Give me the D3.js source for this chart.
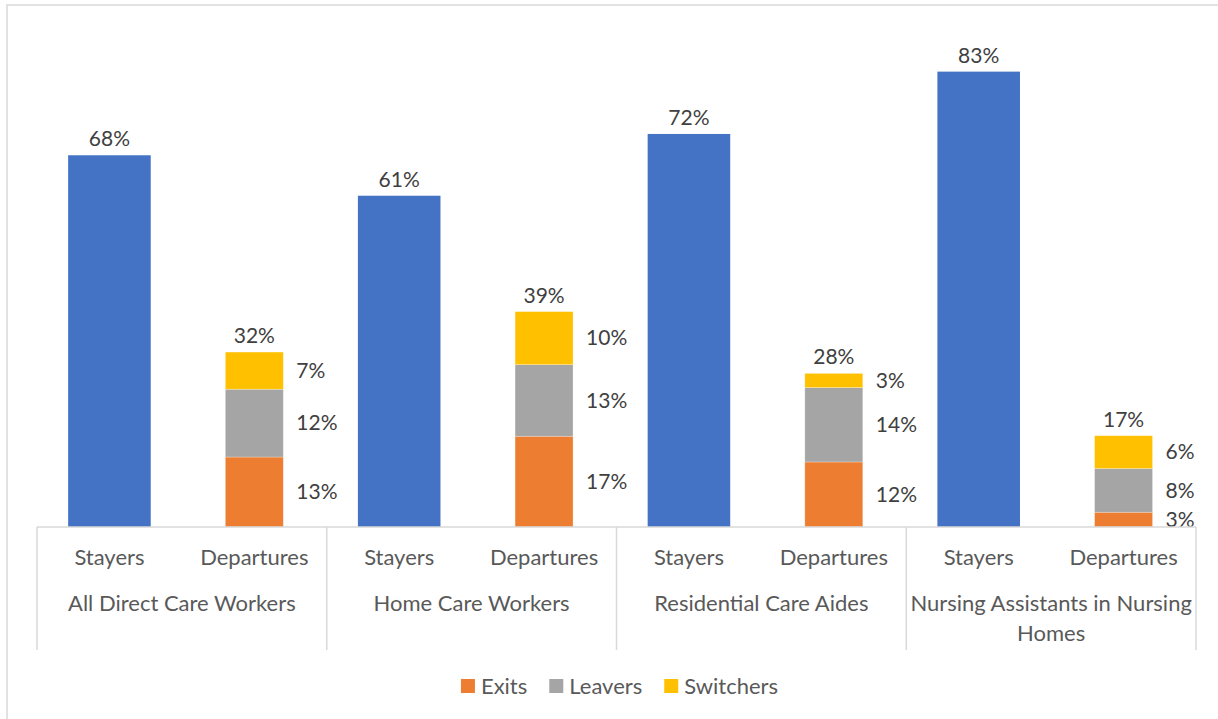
<!DOCTYPE html>
<html>
<head>
<meta charset="utf-8">
<script src="https://cdn.jsdelivr.net/npm/d3@7"></script>
<style>
  html, body { margin: 0; padding: 0; background: #fff; }
  svg { display: block; font-family: Lato, "Open Sans", sans-serif; }
</style>
</head>
<body>
<svg id="chart" width="1218" height="719"></svg>
<script>
// Worker groups along the axis
const groups = ["All Direct Care Workers", "Home Care Workers", "Residential Care Aides", "Nursing Assistants in Nursing Homes"];
const categories = ["Stayers", "Departures"];

// Share of workers who stayed in their job
const stayers = [0.68, 0.606, 0.719, 0.833];

// Departures broken down by type
const exits     = [0.128, 0.166, 0.119, 0.027];
const leavers   = [0.124, 0.131, 0.136, 0.080];
const switchers = [0.068, 0.097, 0.026, 0.060];

const seriesNames = ["Exits", "Leavers", "Switchers"];
const seriesValues = [exits, leavers, switchers];
const seriesColors = ["#ED7D31", "#A5A5A5", "#FFC000"];
const stayerColor = "#4472C4";

const W = 1218, H = 719;
const plot = { left: 37, right: 1196, top: 35, bottom: 527 };

const svg = d3.select("#chart");
const pct = d3.format(".0%");

// Chart area frame (left and top edges)
svg.append("path")
  .attr("d", `M7,${H} L7,5 L${W},5`)
  .attr("fill", "none")
  .attr("stroke", "#D9D9D9")
  .attr("stroke-width", 1.5);

const y = d3.scaleLinear().domain([0, 0.9]).range([plot.bottom, plot.top]);
const xGroup = d3.scaleBand().domain(groups).range([plot.left, plot.right]).padding(0);
const xCat = d3.scaleBand().domain(categories).range([0, xGroup.bandwidth()]).padding(0);

const stayerWidth = xCat.bandwidth() * 0.57;
const departWidth = xCat.bandwidth() * 0.40;

// Stacked departures table
const table = groups.map((g, i) => ({ group: g, Exits: exits[i], Leavers: leavers[i], Switchers: switchers[i] }));
const stack = d3.stack().keys(seriesNames)(table);

const gBars = svg.append("g");

// Stayers bars
groups.forEach((g, i) => {
  const cx = xGroup(g) + xCat("Stayers") + xCat.bandwidth() / 2;
  gBars.append("rect")
    .attr("x", cx - stayerWidth / 2)
    .attr("y", y(stayers[i]))
    .attr("width", stayerWidth)
    .attr("height", y(0) - y(stayers[i]))
    .attr("fill", stayerColor);
  gBars.append("text")
    .attr("x", cx)
    .attr("y", y(stayers[i]) - 9)
    .attr("text-anchor", "middle")
    .attr("font-size", 21)
    .attr("fill", "#404040")
    .text(pct(stayers[i]));
});

// Departures stacked bars with segment labels
stack.forEach((layer, k) => {
  layer.forEach((d, i) => {
    const g = groups[i];
    const cx = xGroup(g) + xCat("Departures") + xCat.bandwidth() / 2;
    gBars.append("rect")
      .attr("x", cx - departWidth / 2)
      .attr("y", y(d[1]))
      .attr("width", departWidth)
      .attr("height", y(d[0]) - y(d[1]))
      .attr("fill", seriesColors[k])
      .attr("stroke", "#fff")
      .attr("stroke-opacity", 0.35)
      .attr("stroke-width", 0.75);
    gBars.append("text")
      .attr("x", cx + departWidth / 2 + 13)
      .attr("y", (y(d[0]) + y(d[1])) / 2)
      .attr("dy", "0.35em")
      .attr("font-size", 21)
      .attr("fill", "#404040")
      .text(pct(seriesValues[k][i]));
  });
});

// Departure totals above each stack
groups.forEach((g, i) => {
  const total = exits[i] + leavers[i] + switchers[i];
  const cx = xGroup(g) + xCat("Departures") + xCat.bandwidth() / 2;
  gBars.append("text")
    .attr("x", cx)
    .attr("y", y(total) - 9)
    .attr("text-anchor", "middle")
    .attr("font-size", 21)
    .attr("fill", "#404040")
    .text(pct(total));
});

// Category axis: baseline and group dividers
const axis = svg.append("g").attr("stroke", "#D9D9D9").attr("stroke-width", 1.5);
axis.append("line")
  .attr("x1", plot.left).attr("x2", plot.right)
  .attr("y1", plot.bottom).attr("y2", plot.bottom);
const bounds = groups.map(g => xGroup(g)).concat([plot.right]);
axis.selectAll("line.div").data(bounds).join("line")
  .attr("class", "div")
  .attr("x1", d => d).attr("x2", d => d)
  .attr("y1", plot.bottom).attr("y2", 650);

const labels = svg.append("g").attr("fill", "#595959").attr("font-size", 22).attr("text-anchor", "middle");
groups.forEach(g => {
  categories.forEach(c => {
    labels.append("text")
      .attr("x", xGroup(g) + xCat(c) + xCat.bandwidth() / 2)
      .attr("y", 557)
      .attr("dy", "0.35em")
      .text(c);
  });
});

// Group names, wrapped to fit each band
groups.forEach(g => {
  const cx = xGroup(g) + xGroup.bandwidth() / 2;
  const t = labels.append("text")
    .attr("x", cx)
    .attr("y", 603)
    .attr("dy", "0.35em");
  const words = g.split(" ");
  let line = [], tspan = t.append("tspan").attr("x", cx);
  words.forEach(w => {
    line.push(w);
    tspan.text(line.join(" "));
    if (tspan.node().getComputedTextLength() > xGroup.bandwidth() - 6 && line.length > 1) {
      line.pop();
      tspan.text(line.join(" "));
      line = [w];
      tspan = t.append("tspan")
        .attr("x", cx)
        .attr("dy", "30px")
        .text(w);
    }
  });
});

// Legend
const legendItems = seriesNames.map((n, i) => ({ name: n, color: seriesColors[i] }));
const legend = svg.append("g").attr("font-size", 22).attr("fill", "#595959");
let lx = 0;
const items = legend.selectAll("g").data(legendItems).join("g");
items.append("rect").attr("width", 14).attr("height", 14).attr("y", -7).attr("fill", d => d.color);
items.append("text").attr("x", 20).attr("dy", "0.35em").text(d => d.name);
items.each(function() {
  d3.select(this).attr("transform", `translate(${lx},0)`);
  lx += this.getBBox().width + 22;
});
const legendWidth = lx - 22;
legend.attr("transform", `translate(${(plot.left + plot.right) / 2 - legendWidth / 2 + 3},686)`);
</script>
</body>
</html>
